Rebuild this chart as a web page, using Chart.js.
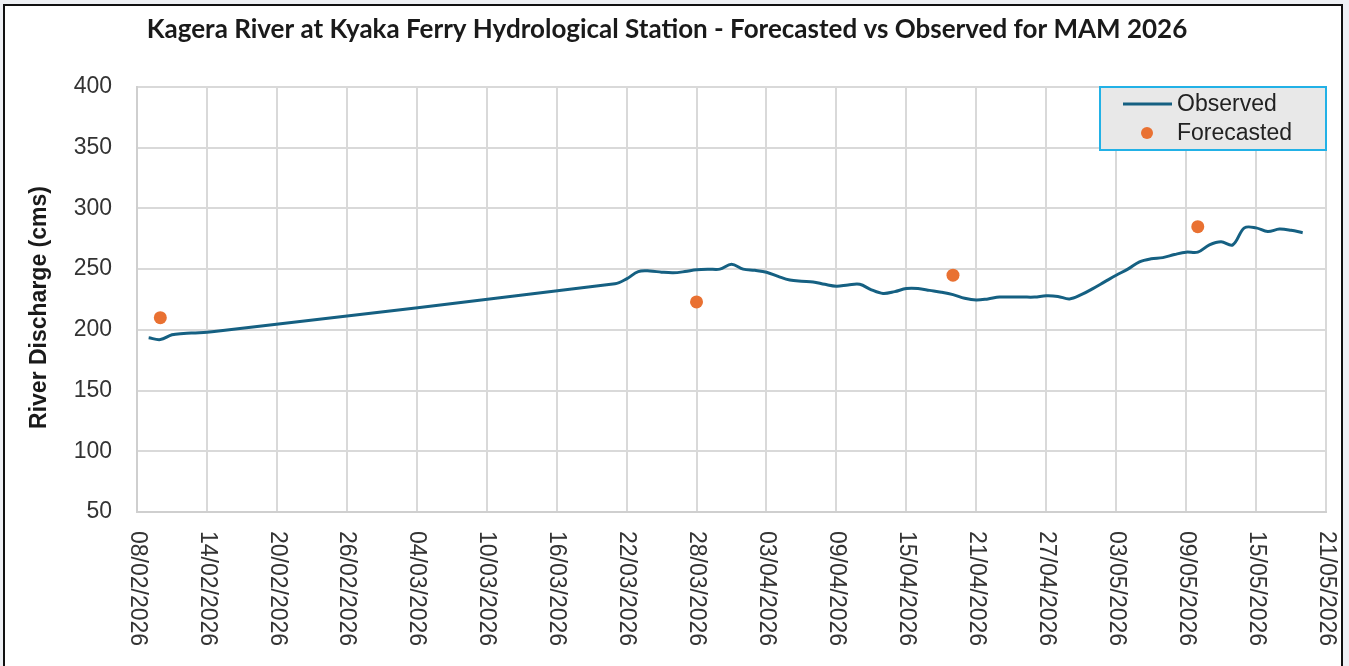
<!DOCTYPE html>
<html>
<head>
<meta charset="utf-8">
<title>Kagera River at Kyaka Ferry</title>
<script src="https://cdn.jsdelivr.net/npm/chart.js@4.4.1/dist/chart.umd.min.js"></script>
<style>
    html, body { margin: 0; padding: 0; background: #eef0f4; }
    #moldura {
        position: absolute; left: 3px; top: 4px;
        width: 1336px; height: 660px;
        border: 2px solid #111; border-bottom-color: #c8c8c8;
        background: #fff;
    }
    #graficoKagera { display: block; }
</style>
</head>
<body>
<div id="moldura"><canvas id="graficoKagera" width="1336" height="660"></canvas></div>
<script>
var titulo = 'Kagera River at Kyaka Ferry Hydrological Station - Forecasted vs Observed for MAM 2026';
var tituloEixoY = 'River Discharge (cms)';

// observed daily discharge (dd/mm, 2026)
var datasObservadas = [
    '09/02', '10/02', '11/02', '12/02', '13/02', '14/02', '15/02',
    '21/03', '22/03', '23/03', '24/03', '25/03', '26/03', '27/03', '28/03', '29/03', '30/03', '31/03',
    '01/04', '02/04', '03/04', '04/04', '05/04', '06/04', '07/04', '08/04', '09/04', '10/04',
    '11/04', '12/04', '13/04', '14/04', '15/04', '16/04', '17/04', '18/04', '19/04', '20/04',
    '21/04', '22/04', '23/04', '24/04', '25/04', '26/04', '27/04', '28/04', '29/04', '30/04',
    '01/05', '02/05', '03/05', '04/05', '05/05', '06/05', '07/05', '08/05', '09/05', '10/05',
    '11/05', '12/05', '13/05', '14/05', '15/05', '16/05', '17/05', '18/05', '19/05'
];
var valoresObservados = [
    193.5, 192, 196, 197, 197.5, 198, 199,
    238, 242, 248, 248.5, 247.5, 247, 248, 249.5, 250, 250, 254,
    250, 249, 247.5, 244, 241, 240, 239.5, 237.5, 236, 237,
    237.5, 233, 230, 231.5, 234, 234, 232.5, 231, 229, 226,
    224.5, 225.5, 227, 227, 227, 227, 228, 227.5, 225.5, 229,
    234, 239.5, 245, 250, 256, 258.5, 259.5, 262, 264, 264,
    270, 272.5, 270, 284, 284, 281, 283, 282, 280
];

var datasPrevistas = ['10/02', '28/03', '19/04', '10/05'];
var valoresPrevistos = [210, 223, 245, 285];

var inicioEixoX = '08/02';
var fimEixoX = '21/05';
var ticksEixoY = [50, 100, 150, 200, 250, 300, 350, 400];

var corObservado = '#156082';
var corPrevisto = '#E97132';

function paraDia(ddmm) {
    var p = ddmm.split('/');
    var inicio = inicioEixoX.split('/');
    return (Date.UTC(2026, +p[1] - 1, +p[0]) - Date.UTC(2026, +inicio[1] - 1, +inicio[0])) / 86400000;
}

function rotuloData(dia) {
    var inicio = inicioEixoX.split('/');
    var d = new Date(Date.UTC(2026, +inicio[1] - 1, +inicio[0] + dia));
    var dd = ('0' + d.getUTCDate()).slice(-2);
    var mm = ('0' + (d.getUTCMonth() + 1)).slice(-2);
    return dd + '/' + mm + '/' + d.getUTCFullYear();
}

var pontosObservados = datasObservadas.map(function (data, i) {
    return { x: paraDia(data), y: valoresObservados[i] };
});
var pontosPrevistos = datasPrevistas.map(function (data, i) {
    return { x: paraDia(data), y: valoresPrevistos[i] };
});

var textosExtras = {
    id: 'textosExtras',
    afterDraw: function (chart) {
        var ctx = chart.ctx;
        var area = chart.chartArea;
        var eixoX = chart.scales.x;

        ctx.save();
        // title
        ctx.fillStyle = '#1a1a1a';
        ctx.font = 'bold 26px Lato';
        ctx.textAlign = 'center';
        ctx.textBaseline = 'middle';
        ctx.fillText(titulo, 662, 24);

        // y axis title
        ctx.save();
        ctx.translate(35, (area.top + area.bottom) / 2 + 8);
        ctx.rotate(-Math.PI / 2);
        ctx.font = 'bold 23px "Liberation Sans"';
        ctx.fillText(tituloEixoY, 0, 0);
        ctx.restore();

        // x tick labels, turned clockwise
        ctx.font = '23px "Liberation Sans"';
        ctx.fillStyle = '#333';
        ctx.textAlign = 'left';
        eixoX.ticks.forEach(function (t) {
            var px = eixoX.getPixelForValue(t.value);
            ctx.save();
            ctx.translate(px, area.bottom + 19);
            ctx.rotate(Math.PI / 2);
            ctx.fillText(rotuloData(t.value), 0, 0);
            ctx.restore();
        });

        // legend
        var lx = area.right - 226, ly = area.top;
        ctx.fillStyle = '#e8e8e8';
        ctx.fillRect(lx, ly, 226, 63);
        ctx.strokeStyle = '#22b1e6';
        ctx.lineWidth = 2;
        ctx.strokeRect(lx, ly, 226, 63);
        ctx.strokeStyle = corObservado;
        ctx.lineWidth = 3;
        ctx.beginPath();
        ctx.moveTo(lx + 23, ly + 17);
        ctx.lineTo(lx + 72, ly + 17);
        ctx.stroke();
        ctx.fillStyle = corPrevisto;
        ctx.beginPath();
        ctx.arc(lx + 47, ly + 46, 6, 0, Math.PI * 2);
        ctx.fill();
        ctx.fillStyle = '#222';
        ctx.font = '23px "Liberation Sans"';
        ctx.fillText('Observed', lx + 77, ly + 18);
        ctx.fillText('Forecasted', lx + 77, ly + 47);
        ctx.restore();
    }
};

var ctx = document.getElementById('graficoKagera').getContext('2d');
var graficoKagera = new Chart(ctx, {
    type: 'line',
    data: {
        datasets: [{
            label: 'Observed',
            data: pontosObservados,
            borderColor: corObservado,
            backgroundColor: corObservado,
            borderWidth: 3,
            pointRadius: 0,
            tension: 0.35,
            order: 2,
        },
        {
            label: 'Forecasted',
            data: pontosPrevistos,
            showLine: false,
            pointRadius: 6.5,
            pointBackgroundColor: corPrevisto,
            pointBorderWidth: 0,
            order: 1,
        }],
    },
    options: {
        responsive: false,
        animation: false,
        layout: { padding: { left: 0, right: 15, top: 81, bottom: 0 } },
        plugins: {
            legend: { display: false },
            title: { display: false },
            tooltip: { enabled: false },
        },
        scales: {
            x: {
                type: 'linear',
                min: 0,
                max: paraDia(fimEixoX),
                ticks: { stepSize: 6, display: false },
                grid: { color: '#d9d9d9', lineWidth: 2, drawTicks: false },
                border: { color: '#cfcfcf', width: 2 },
                afterFit: function (scale) { scale.height = 154; },
            },
            y: {
                min: ticksEixoY[0],
                max: ticksEixoY[ticksEixoY.length - 1],
                afterBuildTicks: function (scale) {
                    scale.ticks = ticksEixoY.map(function (v) { return { value: v }; });
                },
                ticks: {
                    padding: 25,
                    color: '#333',
                    font: { family: 'Liberation Sans', size: 23 },
                },
                grid: { color: '#d9d9d9', lineWidth: 2, drawTicks: false },
                border: { color: '#cfcfcf', width: 2 },
                afterFit: function (scale) { scale.width = 132; },
            },
        },
    },
    plugins: [textosExtras],
});
</script>
</body>
</html>
